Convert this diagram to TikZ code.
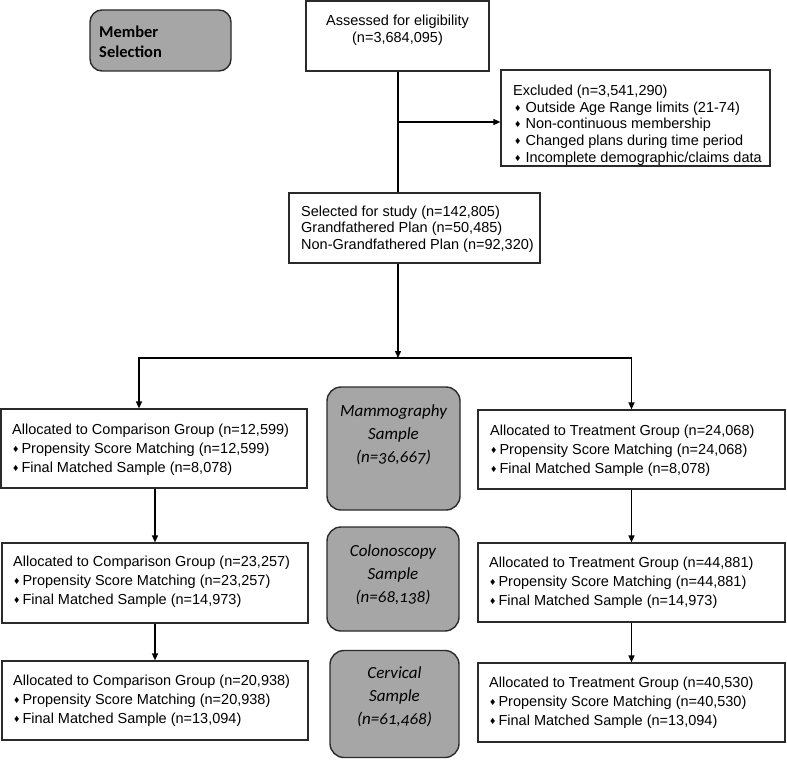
\documentclass[tikz,border=0pt]{standalone}
\usepackage{fontspec}
\setmainfont{Liberation Sans}
\newfontfamily\carl{Carlito}[Numbers=OldStyle]
\usetikzlibrary{arrows.meta}
\definecolor{graybg}{HTML}{A6A6A6}
\definecolor{edge}{HTML}{2A2A2A}
\newcommand{\dia}{\raisebox{0.8pt}{\fontsize{10.5}{10}\selectfont ♦}}
\newcommand{\itm}[1]{\hspace*{1pt}\dia\hspace{3pt}#1}
\newcommand{\xitm}[1]{\hspace*{2pt}\dia\hspace{5pt}#1}
\tikzset{
  whitebox/.style={draw=edge, line width=1.2pt, fill=white, inner sep=0pt},
  graybox/.style={draw=edge, line width=1.4pt, fill=graybg, rounded corners=14pt, inner sep=0pt},
  bodytext/.style={font=\fontsize{14.5}{19}\selectfont, align=left, inner sep=0pt, anchor=west},
  tighttext/.style={font=\fontsize{14.5}{16.7}\selectfont, align=left, inner sep=0pt},
  sampletext/.style={font=\carl\itshape\fontsize{17}{23}\selectfont, align=center, inner sep=0pt},
  headtext/.style={font=\carl\bfseries\fontsize{16.5}{20}\selectfont, align=left, inner sep=0pt, anchor=west},
  conn/.style={draw=black, line width=1.3pt},
  arr/.style={conn, -{Triangle[length=7pt,width=6pt]}}
}
\begin{document}
\begin{tikzpicture}[x=1pt,y=-1pt]
\useasboundingbox (0,0) rectangle (787,760);

% Member selection
\node[graybox, rounded corners=12pt, minimum width=141pt, minimum height=61pt] (member) at (160.5,40.5) {};
\node[headtext] (membertxt) at (99,42) {Member\\Selection};

% Assessed
\node[whitebox, minimum width=183pt, minimum height=70pt] (assess) at (397.5,36) {};
\node[tighttext, align=center] (assesstxt) at (397.5,30.5) {Assessed for eligibility\\(n=3,684,095)};

% Excluded
\node[whitebox, minimum width=269pt, minimum height=96pt] (excl) at (635.5,118) {};
\node[tighttext, anchor=west] (excltxt) at (513,125) {Excluded (n=3,541,290)\\
\xitm{Outside Age Range limits (21-74)}\\
\xitm{Non-continuous membership}\\
\xitm{Changed plans during time period}\\
\xitm{Incomplete demographic/claims data}};

% Selected
\node[whitebox, minimum width=251pt, minimum height=70pt] (sel) at (414.5,228) {};
\node[tighttext, anchor=west] (seltxt) at (301,229) {Selected for study (n=142,805)\\
Grandfathered Plan (n=50,485)\\
Non-Grandfathered Plan (n=92,320)};

% Left column
\node[whitebox, minimum width=306pt, minimum height=79pt] (L1) at (154,448.5) {};
\node[bodytext] (L1txt) at (12,450) {Allocated to Comparison Group (n=12,599)\\
\itm{Propensity Score Matching (n=12,599)}\\
\itm{Final Matched Sample (n=8,078)}};

\node[whitebox, minimum width=306pt, minimum height=80pt] (L2) at (155,583) {};
\node[bodytext] (L2txt) at (13,582) {Allocated to Comparison Group (n=23,257)\\
\itm{Propensity Score Matching (n=23,257)}\\
\itm{Final Matched Sample (n=14,973)}};

\node[whitebox, minimum width=306pt, minimum height=79pt] (L3) at (155,700.5) {};
\node[bodytext] (L3txt) at (13,701) {Allocated to Comparison Group (n=20,938)\\
\itm{Propensity Score Matching (n=20,938)}\\
\itm{Final Matched Sample (n=13,094)}};

% Right column
\node[whitebox, minimum width=307pt, minimum height=79pt] (R1) at (631.5,449.5) {};
\node[bodytext] (R1txt) at (490,451) {Allocated to Treatment Group (n=24,068)\\
\itm{Propensity Score Matching (n=24,068)}\\
\itm{Final Matched Sample (n=8,078)}};

\node[whitebox, minimum width=307pt, minimum height=79pt] (R2) at (631.5,582.5) {};
\node[bodytext] (R2txt) at (489,583) {Allocated to Treatment Group (n=44,881)\\
\itm{Propensity Score Matching (n=44,881)}\\
\itm{Final Matched Sample (n=14,973)}};

\node[whitebox, minimum width=307pt, minimum height=79pt] (R3) at (631.5,702.5) {};
\node[bodytext] (R3txt) at (489,703) {Allocated to Treatment Group (n=40,530)\\
\itm{Propensity Score Matching (n=40,530)}\\
\itm{Final Matched Sample (n=13,094)}};

% Sample boxes
\node[graybox, minimum width=133pt, minimum height=123pt] (mammo) at (393.5,448.5) {};
\node[sampletext] (mammotxt) at (393.5,435) {Mammography\\Sample\\(n=36,667)};

\node[graybox, minimum width=132pt, minimum height=104pt] (colo) at (393,579) {};
\node[sampletext] (colotxt) at (393,574.5) {Colonoscopy\\Sample\\(n=68,138)};

\node[graybox, minimum width=129pt, minimum height=107pt] (cerv) at (394.5,704) {};
\node[sampletext] (cervtxt) at (394.5,696.5) {Cervical\\Sample\\(n=61,468)};

% Connectors
\coordinate (trunk) at (398,0);
\coordinate (br) at (398,122);
\coordinate (split) at (398,358);
\coordinate (lin) at (139,0);

\draw[conn] (trunk |- assess.south) -- (trunk |- sel.north);
\draw[arr] (br) -- (br -| excl.west);
\draw[arr] (trunk |- sel.south) -- (split);
\draw[arr] (split) -| (lin |- L1.north);
\draw[arr] (split) -| (R1.north);
\draw[arr] (L2.north |- L1.south) -- (L2.north);
\draw[arr] (L2.south) -- (L3.north);
\draw[arr] (R1.south) -- (R2.north);
\draw[arr] (R2.south) -- (R3.north);
\end{tikzpicture}
\end{document}
